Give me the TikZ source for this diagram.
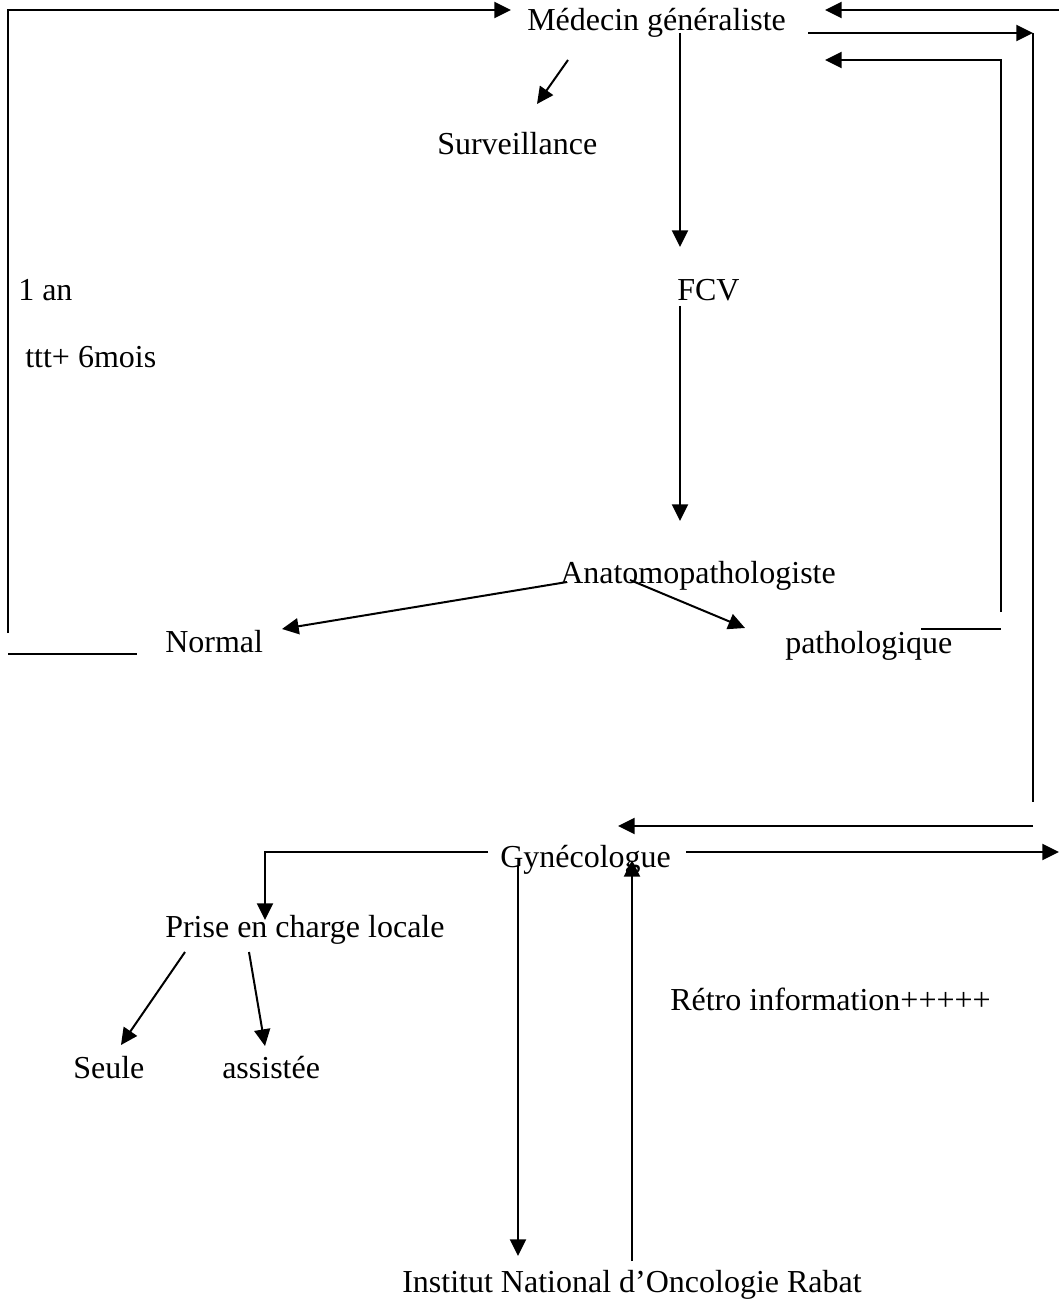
\documentclass[tikz,border=0pt]{standalone}
\usepackage{fontspec}
\setmainfont{Liberation Serif}
\usetikzlibrary{arrows.meta}
\begin{document}
\begin{tikzpicture}[x=0.75pt,y=-0.75pt,
  lbl/.style={anchor=base west,inner sep=0pt,font=\fontsize{24}{28}\selectfont},
  ln/.style={line width=1.5pt},
  arr/.style={line width=1.5pt,-{Triangle[length=12.5pt,width=12pt]}}]
\useasboundingbox[fill=white] (0,0) rectangle (1059,1301);
% labels
\node[lbl] (med) at (527,31) {Médecin généraliste};
\node[lbl] (surv) at (437,155) {Surveillance};
\node[lbl] (fcv) at (677,301) {FCV};
\node[lbl] (an) at (18,301) {1 an};
\node[lbl] (ttt) at (25,368) {ttt+ 6mois};
\node[lbl] (anapath) at (560,583) {Anatomopathologiste};
\node[lbl] (norm) at (165,652) {Normal};
\node[lbl] (patho) at (785,653) {pathologique};
\node[lbl] (gyn) at (500,867) {Gynécologue};
\node[lbl] (prise) at (165,937) {Prise en charge locale};
\node[lbl] (retro) at (670,1010) {Rétro information+++++};
\node[lbl] (seule) at (73,1078) {Seule};
\node[lbl] (assist) at (222,1078) {assistée};
\node[lbl] (ino) at (402,1292) {Institut National d’Oncologie Rabat};
% coordinates
\coordinate (l1) at (8,633);
\coordinate (l2) at (8,10);
\coordinate (l3) at (511,10);
\coordinate (n1) at (8,654);
\coordinate (n2) at (137,654);
\coordinate (t1) at (1059,10);
\coordinate (t2) at (825,10);
\coordinate (r1) at (808,33);
\coordinate (r2) at (1033,33);
\coordinate (r3) at (1033,802);
\coordinate (g1) at (1033,826);
\coordinate (g2) at (618,826);
\coordinate (p1) at (921,629);
\coordinate (p2) at (1001,629);
\coordinate (q1) at (1001,612);
\coordinate (q2) at (1001,60);
\coordinate (q3) at (825,60);
\coordinate (s1) at (568,60);
\coordinate (s2) at (537,104);
\coordinate (f1) at (680,33);
\coordinate (f2) at (680,247);
\coordinate (f3) at (680,306);
\coordinate (f4) at (680,521);
\coordinate (a1) at (567,582);
\coordinate (a2) at (282,629);
\coordinate (a3) at (630,580);
\coordinate (a4) at (745,628);
\coordinate (h1) at (686,852);
\coordinate (h2) at (1059,852);
\coordinate (k1) at (488,852);
\coordinate (k2) at (265,852);
\coordinate (k3) at (265,920);
\coordinate (e1) at (185,952);
\coordinate (e2) at (121,1045);
\coordinate (e3) at (249,952);
\coordinate (e4) at (265,1046);
\coordinate (i1) at (518,866);
\coordinate (i2) at (518,1256);
\coordinate (i3) at (632,1261);
\coordinate (i4) at (632,860);
% connectors
\draw[arr] (l1) -- (l2) -- (l3);
\draw[ln] (n1) -- (n2);
\draw[arr] (t1) -- (t2);
\draw[ln] (r2) -- (r3);
\draw[arr] (r1) -- (r2);
\draw[arr] (g1) -- (g2);
\draw[ln] (p1) -- (p2);
\draw[arr] (q1) -- (q2) -- (q3);
\draw[arr] (s1) -- (s2);
\draw[arr] (f1) -- (f2);
\draw[arr] (f3) -- (f4);
\draw[arr] (a1) -- (a2);
\draw[arr] (a3) -- (a4);
\draw[arr] (h1) -- (h2);
\draw[arr] (k1) -- (k2) -- (k3);
\draw[arr] (e1) -- (e2);
\draw[arr] (e3) -- (e4);
\draw[arr] (i1) -- (i2);
\draw[arr] (i3) -- (i4);
\end{tikzpicture}
\end{document}
